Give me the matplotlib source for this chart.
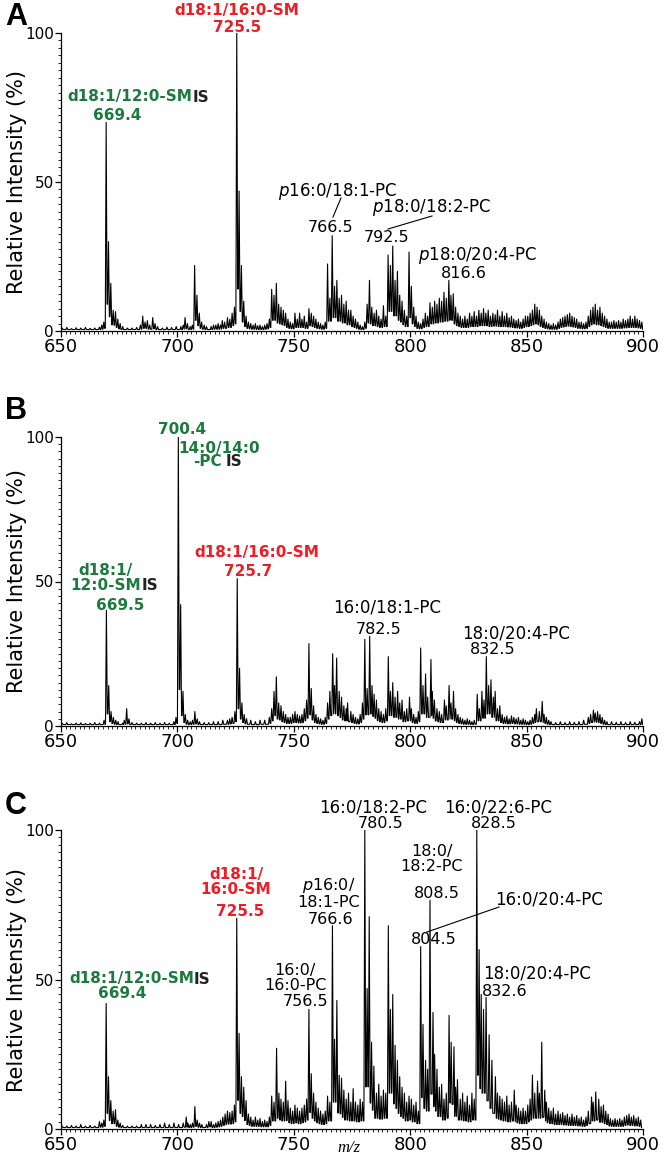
import matplotlib
matplotlib.use("Agg")
import matplotlib.pyplot as plt
from matplotlib.ticker import MultipleLocator
from matplotlib.lines import Line2D

# ---------------- data ----------------
mz_a = [650.5, 652.5, 654.5, 656.5, 658.5, 660.5, 662.5, 664.5, 666.5, 667.5, 668.4, 669.4, 670.4, 671.4,
        672.4, 673.4, 674.4, 675.4, 676.5, 678.5, 680.5, 682.5, 684.1, 685.1, 686.1, 687.1, 688.1, 689.4,
        690.4, 691.5, 693.5, 695.5, 697.5, 699.5, 701.5, 702.5, 703.3, 704.3, 705.5, 706.4, 707.4, 708.4,
        709.4, 710.4, 711.5, 712.5, 714.5, 715.5, 716.5, 717.5, 718.5, 719.3, 720.3, 721.5, 722.5, 723.5,
        724.5, 725.5, 726.5, 727.5, 728.5, 729.5, 730.5, 731.5, 732.5, 733.5, 734.5, 735.5, 736.5, 737.5,
        738.5, 739.5, 740.5, 741.5, 742.5, 743.5, 744.5, 745.5, 746.5, 747.5, 748.5, 749.5, 750.5, 751.5,
        752.5, 753.5, 754.5, 755.5, 756.5, 757.5, 758.5, 759.5, 760.5, 761.5, 762.5, 763.5, 764.5, 765.5,
        766.5, 767.5, 768.5, 769.5, 770.5, 771.5, 772.5, 773.5, 774.5, 775.5, 776.5, 777.5, 778.5, 779.5,
        780.5, 781.5, 782.5, 783.5, 784.5, 785.5, 786.5, 787.5, 788.5, 789.5, 790.5, 791.5, 792.5, 793.5,
        794.5, 795.5, 796.5, 797.5, 798.5, 799.5, 800.5, 801.5, 802.5, 803.5, 804.5, 805.5, 806.5, 807.5,
        808.5, 809.5, 810.5, 811.5, 812.5, 813.5, 814.5, 815.5, 816.6, 817.5, 818.5, 819.5, 820.5, 821.5,
        822.5, 823.5, 824.5, 825.5, 826.5, 827.5, 828.5, 829.5, 830.5, 831.5, 832.5, 833.5, 834.5, 835.5,
        836.5, 837.5, 838.5, 839.5, 840.5, 841.5, 842.5, 843.5, 844.5, 845.5, 846.5, 847.5, 848.5, 849.5,
        850.5, 851.5, 852.5, 853.5, 854.5, 855.5, 856.5, 857.5, 858.5, 859.5, 860.5, 861.5, 862.5, 863.5,
        864.5, 865.5, 866.5, 867.5, 868.5, 869.5, 870.5, 871.5, 872.5, 873.5, 874.5, 875.5, 876.5, 877.5,
        878.5, 879.5, 880.5, 881.5, 882.5, 883.5, 884.5, 885.5, 886.5, 887.5, 888.5, 889.5, 890.5, 891.5,
        892.5, 893.5, 894.5, 895.5, 896.5, 897.5, 898.5, 899.5]
int_a = [1, 1.2, 0.8, 1.1, 1, 1.2, 0.9, 1, 1.3, 2, 3, 70, 30, 16,
         7, 6.5, 4, 2.5, 1.5, 1, 1, 1.2, 2, 5, 3, 3.5, 2, 4.5,
         2.5, 1.5, 1, 1.3, 1.2, 1.5, 1.5, 2, 4.5, 2.5, 1.5, 2, 22, 12,
         6, 3, 2, 1.5, 1.5, 2, 2, 2.5, 2, 3.5, 3, 4.5, 4, 6,
         8, 100, 47, 22, 10, 5, 3, 2.5, 2, 2.5, 1.8, 2, 1.5, 2,
         2.5, 4, 14, 12, 16, 9, 8, 7, 6, 4, 3, 2.5, 6, 4,
         6, 4, 5, 3, 7.5, 6, 5, 4, 3, 2.5, 2, 3, 22.5, 11,
         32, 15, 17, 11, 12, 9, 10, 7, 7, 5, 4, 3, 2, 1.5,
         3, 9, 17, 8, 6, 7, 5, 4, 8.5, 5, 25.5, 22, 28.5, 17,
         20, 12, 10, 7, 5, 26.5, 15, 8, 5, 3, 2.5, 4, 6, 5,
         9.5, 8, 10, 9, 11, 10, 13, 11, 17, 12, 12.5, 8, 6, 5,
         4, 5, 4, 6, 5, 6.5, 5, 7, 6, 7.5, 6, 7, 5, 6,
         5.5, 7, 5, 6.5, 5, 6, 4.5, 5, 4, 3.5, 4, 3, 4, 5,
         5, 6, 7, 9, 8, 7, 5, 4, 3, 2.5, 2, 2.5, 2, 3,
         4, 4.5, 5, 5.5, 6, 5, 4.5, 4, 3, 3, 2.5, 3, 5, 7,
         8, 9, 7, 8, 6, 5, 4, 3, 3, 3.5, 3, 3.5, 3, 4,
         3.5, 4, 5, 4, 5, 4, 3.5, 3]

mz_b = [650.5, 652.5, 654.5, 656.5, 658.5, 660.5, 662.5, 664.5, 666.5, 668.5, 669.5, 670.5, 671.5, 672.5,
        673.5, 674.5, 676.5, 677.2, 678.2, 679.2, 680.5, 682.5, 684.5, 686.5, 688.5, 690.5, 692.5, 694.5,
        696.5, 698.5, 699.4, 700.4, 701.4, 702.4, 703.4, 704.4, 705.5, 706.5, 707.5, 708.5, 709.5, 711.5,
        713.5, 715.5, 717.5, 719.5, 721.5, 722.5, 723.5, 724.7, 725.7, 726.7, 727.7, 728.7, 729.7, 731.5,
        733.5, 735.5, 737.5, 739.5, 740.5, 741.5, 742.5, 743.5, 744.5, 745.5, 746.5, 747.5, 748.5, 749.5,
        750.5, 751.5, 752.5, 753.5, 754.5, 755.5, 756.5, 757.5, 758.5, 759.5, 760.5, 761.5, 762.5, 763.5,
        764.5, 765.5, 766.7, 767.5, 768.4, 769.5, 770.5, 771.5, 772.5, 773.1, 774.5, 775.5, 776.5, 777.5,
        778.5, 779.5, 780.5, 781.5, 782.6, 783.6, 784.5, 785.5, 786.5, 787.5, 788.5, 789.5, 790.6, 791.5,
        792.5, 793.5, 794.6, 795.5, 796.5, 797.5, 798.5, 799.7, 800.5, 801.5, 802.5, 803.5, 804.5, 805.5,
        806.6, 807.5, 808.9, 809.5, 810.4, 811.5, 812.5, 813.5, 814.7, 815.5, 816.7, 817.5, 818.6, 819.5,
        820.5, 821.5, 822.5, 823.5, 824.5, 825.5, 826.5, 827.5, 828.8, 829.7, 830.8, 831.7, 832.7, 833.7,
        834.7, 835.7, 836.5, 837.5, 838.5, 839.5, 840.5, 841.5, 842.5, 843.5, 844.5, 845.5, 846.5, 847.5,
        848.5, 849.5, 850.5, 851.5, 852.5, 853.5, 854.2, 855.5, 856.7, 857.5, 858.5, 859.5, 860.5, 862.5,
        864.5, 866.5, 868.5, 870.5, 872.5, 874.5, 876.5, 877.5, 878.7, 879.5, 880.5, 881.5, 882.5, 883.5,
        884.5, 886.5, 888.5, 890.5, 892.5, 894.5, 896.5, 898.5, 899.5]
int_b = [1, 1.2, 0.8, 1, 1.1, 0.9, 1, 1.2, 1, 2, 40, 14, 5, 3,
         2, 1.5, 1, 2, 6, 2.5, 1.2, 1, 1, 1.2, 1, 1.2, 1, 1.2,
         1, 1.5, 3, 100, 42, 12, 4, 2, 1.5, 2, 5, 2.5, 1.5, 1.2,
         1.2, 1.5, 1.5, 2, 2, 2.5, 3, 5, 51, 20, 8, 4, 2.5, 2,
         1.5, 2, 2, 3, 6, 12, 17, 8, 7, 5, 4, 3, 3, 4,
         5, 4, 3.5, 4, 6, 9, 28.5, 13, 7, 4, 3, 2.5, 2, 3,
         8, 12, 25, 14, 23.5, 12, 10, 7, 6, 8, 5, 4, 3, 2.5,
         4, 8, 30, 13, 31, 14, 11, 9, 6, 5, 4, 6, 24, 12,
         15, 10, 12, 8, 9, 5, 6, 10, 6, 4, 3, 5, 27, 14,
         18, 10, 23, 12, 9, 6, 5, 4, 9, 7, 14, 8, 12, 6,
         4, 3, 2.5, 2, 2.5, 2, 1.5, 2, 11, 6, 12, 9, 24, 14,
         16, 10, 12, 6, 7, 4, 3, 3.5, 2.5, 3.5, 3, 2.5, 3, 2,
         2.5, 2, 1.5, 2, 3, 4, 6, 5, 8.5, 4, 3, 2, 1.5, 1.2,
         1.5, 1.2, 1.5, 1.3, 1.5, 2, 3, 4, 5.5, 4.5, 5, 4, 3, 2,
         1.5, 1.5, 1.3, 1.5, 1.2, 1.5, 1.3, 1.5, 2.5]

mz_c = [650.5, 652.5, 654.5, 656.5, 658.5, 660.5, 662.5, 664.5, 666.5, 667.5, 668.4, 669.4, 670.4, 671.4,
        672.4, 673.4, 674.4, 675.4, 676.5, 678.5, 680.5, 682.5, 684.5, 686.5, 688.5, 690.5, 692.5, 694.5,
        696.5, 698.5, 700.5, 702.5, 703.8, 704.5, 705.5, 706.5, 707.5, 708.5, 709.5, 710.5, 712.5, 713.5,
        714.5, 715.5, 716.5, 717.5, 718.5, 719.5, 720.5, 721.5, 722.5, 723.5, 724.5, 725.5, 726.5, 727.5,
        728.5, 729.5, 730.5, 731.5, 732.5, 733.5, 734.5, 735.5, 736.5, 737.5, 738.5, 739.5, 740.5, 741.5,
        742.6, 743.6, 744.5, 745.5, 746.5, 747.5, 748.5, 749.5, 750.5, 751.5, 752.5, 753.5, 754.5, 755.5,
        756.5, 757.5, 758.5, 759.5, 760.5, 761.5, 762.5, 763.5, 764.5, 765.5, 766.6, 767.5, 768.5, 769.5,
        770.5, 771.5, 772.5, 773.5, 774.5, 775.5, 776.5, 777.5, 778.5, 779.5, 780.5, 781.5, 782.4, 783.4,
        784.4, 785.5, 786.5, 787.5, 788.5, 789.5, 790.6, 791.5, 792.5, 793.5, 794.5, 795.5, 796.5, 797.5,
        798.5, 799.5, 800.5, 801.5, 802.5, 803.5, 804.5, 805.5, 806.6, 807.5, 808.5, 809.8, 810.5, 811.5,
        812.5, 813.5, 814.5, 815.5, 816.7, 817.6, 818.8, 819.5, 820.3, 821.5, 822.5, 823.5, 824.5, 825.5,
        826.5, 827.5, 828.6, 829.6, 830.5, 831.5, 832.6, 833.9, 835.1, 836.6, 837.5, 838.5, 839.5, 840.5,
        841.5, 842.5, 843.5, 844.7, 845.5, 846.5, 847.5, 848.5, 849.5, 850.5, 851.5, 852.5, 853.5, 854.7,
        855.5, 856.5, 857.8, 858.5, 859.5, 860.5, 861.5, 862.5, 863.5, 864.5, 865.5, 866.5, 867.5, 868.5,
        869.5, 870.5, 871.5, 872.5, 873.5, 874.5, 875.5, 876.5, 877.9, 878.6, 879.7, 881.0, 882.0, 883.0,
        884.0, 885.0, 886.0, 887.0, 888.0, 889.0, 890.0, 891.0, 892.0, 893.0, 894.0, 895.0, 896.0, 897.0,
        898.0, 899.0]
int_c = [1, 1, 1.2, 1, 1.5, 1, 1.2, 1, 2.5, 2, 3, 42, 17.5, 9.5,
         6, 6.5, 3, 2, 1.2, 1, 1, 1, 1.5, 1.5, 1.5, 1.2, 1.5, 2,
         1.5, 2, 1.5, 2, 4, 2, 1.5, 2, 7.5, 3, 2, 1.5, 1.5, 2.5,
         2.5, 1.5, 2, 2.5, 3, 4, 5, 6, 5.5, 6, 8, 70.5, 32, 17.5,
         14, 9.5, 5, 4, 3, 4, 3, 3.5, 2.5, 3, 2.5, 4, 11, 9,
         27, 12, 10, 9, 16, 9.5, 7, 6, 8, 7, 6, 7, 8, 10,
         40, 18.5, 12, 9, 7, 6, 5, 6, 11, 9, 68, 30, 43, 18,
         17, 13, 10, 12, 9, 13.5, 9, 8, 10, 9, 100, 47, 71, 29,
         21, 12, 15, 11, 13, 12, 68, 40, 45, 28, 23, 17.5, 14, 12,
         9, 11, 10, 8, 9, 6, 61, 35, 23, 20, 76.5, 39, 25, 20,
         14, 15, 10, 12, 38, 29, 27.5, 14, 16.5, 10, 12, 9, 11, 8,
         12, 10, 100, 60, 45, 40, 44, 31.5, 23, 17.5, 12, 11, 10, 9,
         11, 8, 9, 13, 8, 7, 6, 7, 6, 8, 10, 18, 12, 16,
         12, 29, 13, 9, 7, 6, 7, 5, 6, 5, 5.5, 4.5, 5, 4,
         5, 4, 4.5, 3.5, 4, 3, 4, 6, 10.7, 9, 12.4, 10, 7.5, 8,
         6, 5, 3.5, 3, 3.5, 3, 3.5, 3, 4, 4.5, 5, 4, 4.5, 3.5,
         4, 3]

x_ticks = [650, 700, 750, 800, 850, 900]
y_ticks = [0, 50, 100]

GREEN = "#1b7a3c"
RED = "#ee1c24"
W, H = 664, 1160

fig = plt.figure(figsize=(W / 100, H / 100), dpi=100)


def fx(px):
    return px / W


def fy(py):
    return 1 - py / H


def profile(mz, inten, hw=0.38, floor=0.5):
    xs, ys = [], []
    n = len(mz)
    for i in range(n):
        m, h = mz[i], inten[i]
        left = inten[i - 1] if i > 0 else floor
        right = inten[i + 1] if i < n - 1 else floor
        lf = max(floor, 0.3 * min(h, left))
        rf = max(floor, 0.3 * min(h, right))
        xs += [m - hw, m, m + hw]
        ys += [lf, h, rf]
    return xs, ys


def make_axes(top_px, bottom_px, mz, inten):
    ax = fig.add_axes([fx(61), fy(bottom_px), fx(643) - fx(61), (bottom_px - top_px) / H])
    xs, ys = profile(mz, inten)
    ax.plot(xs, ys, color="black", lw=0.8)
    ax.set_xlim(650, 900)
    ax.set_ylim(0, 100)
    for s in ["top", "right"]:
        ax.spines[s].set_visible(False)
    for s in ["left", "bottom"]:
        ax.spines[s].set_linewidth(0.9)
    ax.set_xticks(x_ticks)
    ax.set_yticks(y_ticks)
    ax.xaxis.set_minor_locator(MultipleLocator(2))
    ax.yaxis.set_minor_locator(MultipleLocator(2.5))
    ax.tick_params(axis="x", which="major", direction="out", length=4, width=0.9, labelsize=13, pad=1)
    ax.tick_params(axis="x", which="minor", direction="out", length=2, width=0.6)
    ax.tick_params(axis="y", which="major", direction="out", length=4, width=0.9, labelsize=11, pad=1)
    ax.tick_params(axis="y", which="minor", direction="out", length=2, width=0.6)
    return ax


axA = make_axes(33, 331, mz_a, int_a)
axB = make_axes(437, 726, mz_b, int_b)
axC = make_axes(830, 1129, mz_c, int_c)


def txt(px, py, s, color="black", weight="normal", size=12, ha="center", style="normal",
        family="DejaVu Sans", ls=1.0):
    fig.text(fx(px), fy(py), s, color=color, fontweight=weight, fontsize=size, ha=ha, va="center",
             fontstyle=style, family=family, linespacing=ls, multialignment="center")


def line(x0, y0, x1, y1):
    fig.add_artist(Line2D([fx(x0), fx(x1)], [fy(y0), fy(y1)], color="black", lw=0.8))


# panel letters
for letter, py in [("A", 17), ("B", 411), ("C", 806)]:
    txt(16, py, letter, weight="bold", size=22, family="Liberation Sans")

# y labels
for cy in [182, 581, 980]:
    fig.text(fx(17), fy(cy), "Relative Intensity (%)", rotation=90, ha="center", va="center", fontsize=15)

txt(349, 1148, "m/z", size=12, style="italic", family="Liberation Serif")

# ---- Panel A labels
txt(237, 11, "d18:1/16:0-SM", RED, "bold", 11)
txt(237, 28, "725.5", RED, "bold", 11)
txt(192, 97, "d18:1/12:0-SM", GREEN, "bold", 11, ha="right")
txt(193, 97, "IS", "#222222", "bold", 11, ha="left")
txt(117, 115, "669.4", GREEN, "bold", 11)
fig.text(fx(278), fy(191), r"$\it{p}$16:0/18:1-PC", fontsize=12, ha="left", va="center")
txt(331, 227, "766.5", size=11.5)
line(341, 198, 333, 217)
fig.text(fx(372), fy(208), r"$\it{p}$18:0/18:2-PC", fontsize=12, ha="left", va="center")
txt(387, 237, "792.5", size=11.5)
line(432, 216, 388, 229)
fig.text(fx(418), fy(256), r"$\it{p}$18:0/20:4-PC", fontsize=12, ha="left", va="center")
txt(464, 273, "816.6", size=11.5)

# ---- Panel B labels
txt(182, 430, "700.4", GREEN, "bold", 11)
txt(219, 448, "14:0/14:0", GREEN, "bold", 11)
txt(222, 462, "-PC", GREEN, "bold", 11, ha="right")
txt(226, 462, "IS", "#222222", "bold", 11, ha="left")
txt(257, 553, "d18:1/16:0-SM", RED, "bold", 11)
txt(248, 572, "725.7", RED, "bold", 11)
txt(106, 570, "d18:1/", GREEN, "bold", 11)
txt(141, 585, "12:0-SM", GREEN, "bold", 11, ha="right")
txt(142, 585, "IS", "#222222", "bold", 11, ha="left")
txt(120, 605, "669.5", GREEN, "bold", 11)
txt(387, 608, "16:0/18:1-PC", size=12)
txt(379, 630, "782.5", size=11.5)
txt(516, 634, "18:0/20:4-PC", size=12)
txt(493, 649, "832.5", size=11.5)

# ---- Panel C labels
txt(236, 882, "d18:1/\n16:0-SM", RED, "bold", 11, ls=0.95)
txt(240, 912, "725.5", RED, "bold", 11)
fig.text(fx(329), fy(893), r"$\it{p}$16:0/" + "\n18:1-PC", fontsize=11.5, ha="center", va="center",
         linespacing=0.95, multialignment="center")
txt(331, 920, "766.6", size=11.5)
txt(373, 807, "16:0/18:2-PC", size=12)
txt(381, 823, "780.5", size=11.5)
txt(498, 807, "16:0/22:6-PC", size=12)
txt(494, 823, "828.5", size=11.5)
txt(432, 859, "18:0/\n18:2-PC", size=11.5, ls=0.95)
txt(437, 893, "808.5", size=11.5)
txt(549, 899, "16:0/20:4-PC", size=12)
txt(434, 940, "804.5", size=11.5)
line(499, 907, 427, 932)
txt(295, 978, "16:0/\n16:0-PC", size=11.5, ls=0.95)
txt(306, 1002, "756.5", size=11.5)
txt(537, 974, "18:0/20:4-PC", size=12)
txt(505, 992, "832.6", size=11.5)
txt(194, 979, "d18:1/12:0-SM", GREEN, "bold", 11, ha="right")
txt(194, 979, "IS", "#222222", "bold", 11, ha="left")
txt(122, 994, "669.4", GREEN, "bold", 11)

fig.savefig("out.png", dpi=100)
